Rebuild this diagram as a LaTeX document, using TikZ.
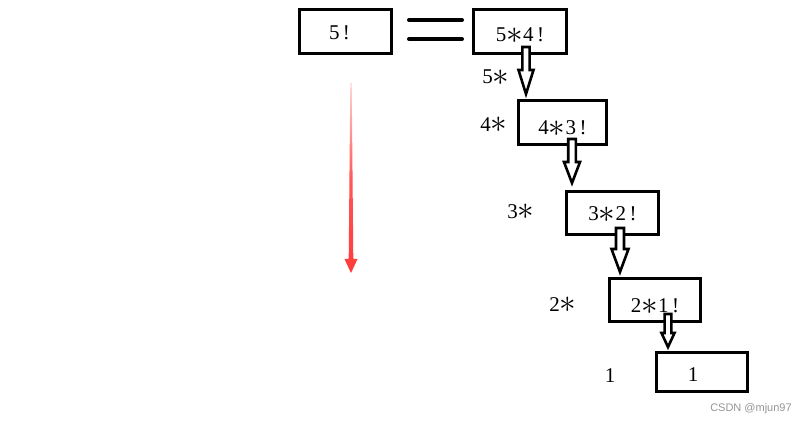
\documentclass[tikz,border=0pt]{standalone}
\usepackage{graphicx}
\usepackage{fontspec}
\setmainfont{Liberation Serif}
\newfontfamily\wmfont{Liberation Sans}
\definecolor{redc}{RGB}{255,58,58}
\definecolor{pinkc}{RGB}{255,215,215}
\definecolor{wmgray}{RGB}{150,150,150}
\newcommand\bigast{\raisebox{-1.8pt}{\scalebox{1.6}{\(\ast\)}}}
\newcommand\lowtxt[2]{\raisebox{-#1pt}[0pt][0pt]{#2}}
\newcommand\hollowarr[6]{%
  \draw[harr] (#1-#5,#2) -- (#1-#5,#3) -- (#1-#6,#3) -- (#1,#4) -- (#1+#6,#3) -- (#1+#5,#3) -- (#1+#5,#2) -- cycle;}
\begin{document}
\begin{tikzpicture}[x=1pt,y=-1pt,
  box/.style={draw=black,line width=3.2pt,inner sep=0pt,minimum width=92pt,minimum height=44pt,font=\fontsize{21}{24}\selectfont},
  lbl/.style={inner sep=0pt,font=\fontsize{21}{24}\selectfont},
  harr/.style={draw=black,fill=white,line width=2.6pt,line join=miter}]
\useasboundingbox (0,0) rectangle (807,425);
\fill[white] (0,0) rectangle (807,425);
% boxes
\node[box] (b5) at (345.5,31.5) {\hspace{-12pt}\lowtxt{8}{5\,!}};
\node[box,minimum width=93pt] (b54) at (520,31.5) {\lowtxt{10}{5\bigast4\,!}};
\node[box,minimum width=88pt] (b43) at (562.5,122.5) {\lowtxt{12.5}{4\bigast3\,!}};
\node[box,minimum height=43pt] (b32) at (612.5,213) {\lowtxt{7.5}{3\bigast2\,!}};
\node[box,minimum width=91pt,minimum height=43pt] (b21) at (655,300) {\lowtxt{12.5}{2\bigast1\,!}};
\node[box,minimum width=91pt,minimum height=39pt] (b1) at (702,372) {\hspace{-18pt}\lowtxt{9.5}{1}};
% equal sign
\coordinate (e1) at (409,20); \coordinate (e2) at (462,20);
\coordinate (e3) at (409,39); \coordinate (e4) at (462,39);
\draw[line width=4pt,line cap=round] (e1) -- (e2);
\draw[line width=4pt,line cap=round] (e3) -- (e4);
% side labels
\node[lbl] (l5) at (496,78) {5\bigast};
\node[lbl] (l4) at (494,125) {4\bigast};
\node[lbl] (l3) at (521,212) {3\bigast};
\node[lbl] (l2) at (563,305) {2\bigast};
\node[lbl] (l1) at (610,376) {1};
% hollow arrows
\hollowarr{526}{47}{70}{94}{3.6}{7.5}
\hollowarr{572}{139}{162}{183}{3.8}{8}
\hollowarr{620}{228}{249}{272}{4}{8.5}
\hollowarr{668}{314}{333}{347}{3.4}{6.5}
% red arrow
\shade[top color=pinkc,bottom color=redc,middle color=redc!85]
  (350.3,83) -- (351.7,83) -- (353.3,259) -- (357.5,259) -- (351,273) -- (344.5,259) -- (348.7,259) -- cycle;
% watermark
\node[inner sep=0pt,font=\wmfont\fontsize{11}{12}\selectfont,text=wmgray] (wm) at (751,409) {CSDN @mjun97};
\end{tikzpicture}
\end{document}
